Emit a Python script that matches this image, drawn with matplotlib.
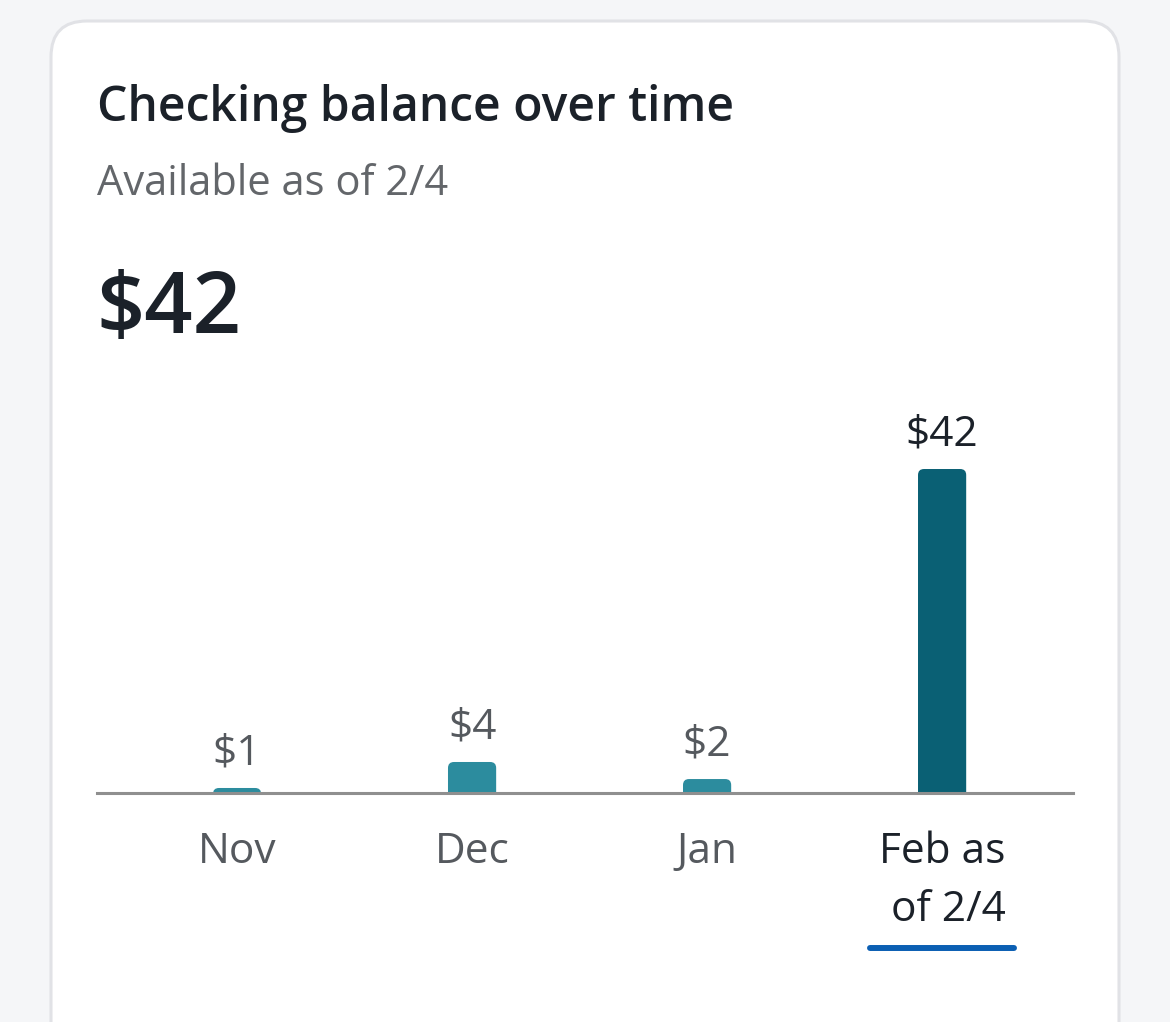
import matplotlib.pyplot as plt
import matplotlib.transforms as mtransforms
from matplotlib.patches import FancyBboxPatch
import numpy as np

plt.rcParams["font.family"] = ["Open Sans", "DejaVu Sans"]

# data
months = ["Nov", "Dec", "Jan", "Feb as\nof 2/4"]
balances = [0.65, 4.02, 1.81, 42.0]
title = "Checking balance over time"
subtitle = "Available as of 2/4"
headline = "$42"

bar_colors = ["#2c8c9e", "#2c8c9e", "#2c8c9e", "#0a6074"]
label_colors = ["#55595e", "#55595e", "#55595e", "#1b2129"]

W, H = 1170, 1022
fig = plt.figure(figsize=(W / 100, H / 100), dpi=100, facecolor="#f5f6f8")

# background layer in pixel coordinates
bg = fig.add_axes([0, 0, 1, 1])
bg.set_xlim(0, W)
bg.set_ylim(H, 0)
bg.axis("off")
card = FancyBboxPatch((51, 21), 1068, 1100, boxstyle="round,pad=0,rounding_size=36",
                      facecolor="white", edgecolor="#e1e2e6", linewidth=2.2)
bg.add_patch(card)
bg.text(97, 121, title, fontsize=34.6, fontweight=600, color="#1b2129", va="baseline")
bg.text(97, 195, subtitle, fontsize=30, color="#63666a", va="baseline")
bg.text(96, 333, headline, fontsize=61, fontweight=600, color="#1b2129", va="baseline")

# chart axes
ymax = 50
ax_left, ax_right, ax_base = 97, 1073, 793
ax_h = ymax * 7.714
ax = fig.add_axes([ax_left / W, (H - ax_base) / H, (ax_right - ax_left) / W, ax_h / H])
ax.set_facecolor("none")
x = np.arange(len(months))
bars = ax.bar(x, balances, width=0.205, color=bar_colors)
ax.set_xlim(-0.596, 3.557)
ax.set_ylim(0, ymax)

# rounded tops: replace each bar with a rounded patch that starts below the baseline
px_per_x = (ax_right - ax_left) / (3.557 + 0.596)
px_per_y = ax_h / ymax
for b in bars:
    b.set_visible(False)
    r = FancyBboxPatch((b.get_x(), -2), b.get_width(), b.get_height() + 2,
                       boxstyle="round,pad=0,rounding_size=%f" % (6 / px_per_x),
                       mutation_aspect=px_per_x / px_per_y,
                       facecolor=b.get_facecolor(), edgecolor="none")
    ax.add_patch(r)

for i, v in enumerate(balances):
    ax.annotate("$%d" % round(v), (x[i], v), xytext=(0, 17), textcoords="offset points",
                ha="center", va="baseline", fontsize=30.5, color=label_colors[i])

for s in ["top", "left", "right"]:
    ax.spines[s].set_visible(False)
ax.spines["bottom"].set_color("#8f8f8f")
ax.spines["bottom"].set_linewidth(2.2)
ax.set_yticks([])
ax.set_xticks(x)
ax.set_xticklabels(months, fontsize=30.5, linespacing=1.5)
ax.tick_params(axis="x", length=0, pad=27.5)
for lbl, c in zip(ax.get_xticklabels(), label_colors):
    lbl.set_color(c)
    lbl.set_multialignment("right")

# underline for the selected month
trans = mtransforms.blended_transform_factory(ax.transData, ax.transAxes)
yline = (ax_base - 948) / ax_h
ax.plot([x[3] - 0.305, x[3] + 0.305], [yline, yline], transform=trans, clip_on=False,
        color="#0b5fb3", linewidth=4.3, solid_capstyle="round")

fig.savefig("out.png", dpi=100, facecolor=fig.get_facecolor())
